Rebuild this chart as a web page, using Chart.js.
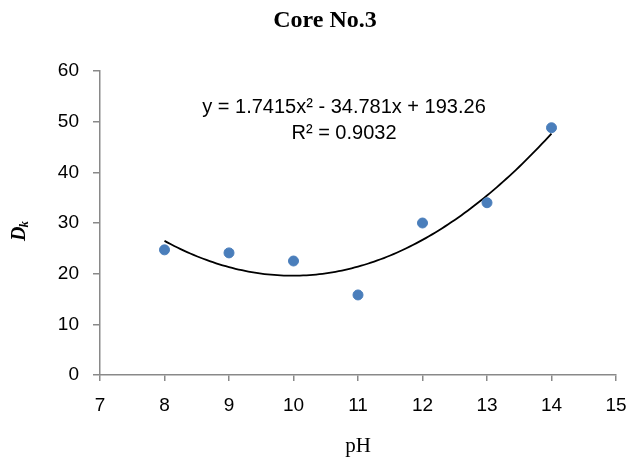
<!DOCTYPE html>
<html>
<head>
<meta charset="utf-8">
<script src="https://cdn.jsdelivr.net/npm/chart.js@4"></script>
<style>
  html, body { margin:0; padding:0; background:#fff; }
  #wrap { width:627px; height:459px; position:relative; }
</style>
</head>
<body>
<div id="wrap"><canvas id="coreChart"></canvas></div>
<script>
// pH values and measured D_k for Core No.3
const phValues = [8, 9, 10, 11, 12, 13, 14];
const dkValues = [24.7, 24.1, 22.5, 15.8, 30.0, 34.0, 48.8];

// polynomial trendline shown on the chart: c0 + c1*x + c2*x^2
const trendCoef = [193.26, -34.781, 1.7415];
const trendRange = [8, 14];
const equationLines = ['y = 1.7415x\u00b2 - 34.781x + 193.26', 'R\u00b2 = 0.9032'];
const chartTitle = 'Core No.3';

const xTicks = { min:7, max:15, step:1 };
const yTicks = { min:0, max:60, step:10 };

const axisGrey = '#898989';
const sans = "'Liberation Sans', Arial, sans-serif";
const serif = "'Liberation Serif', 'Times New Roman', serif";

const trendPts = [];
for (let x = trendRange[0]; x <= trendRange[1] + 1e-9; x += 0.05) {
  trendPts.push({x:x, y:trendCoef[0] + trendCoef[1]*x + trendCoef[2]*x*x});
}

const labelsPlugin = {
  id:'extraText',
  afterDraw(chart) {
    const ctx = chart.ctx;
    ctx.save();
    ctx.fillStyle = '#000';
    ctx.textAlign = 'center';
    ctx.textBaseline = 'middle';
    // title sits a bit right of the canvas centre, like the original
    ctx.font = 'bold 24px ' + serif;
    ctx.fillText(chartTitle, 325, 21);
    // equation box
    ctx.font = '20px ' + sans;
    ctx.fillText(equationLines[0], 344, 107);
    ctx.fillText(equationLines[1], 344, 133);
    ctx.restore();

    // rotated y title D with subscript k
    ctx.save();
    ctx.translate(25, 241);
    ctx.rotate(-Math.PI/2);
    ctx.fillStyle = '#000';
    ctx.textBaseline = 'alphabetic';
    ctx.font = 'italic bold 20px ' + serif;
    ctx.fillText('D', 0, 0);
    const w = ctx.measureText('D').width;
    ctx.font = 'italic bold 13px ' + serif;
    ctx.fillText('k', w - 1, 3);
    ctx.restore();
  }
};

new Chart(document.getElementById('coreChart').getContext('2d'), {
  type:'scatter',
  data:{
    datasets:[{
      label:'Dk',
      data: phValues.map((p, i) => ({x:p, y:dkValues[i]})),
      backgroundColor:'#4a7ebb', borderColor:'#4a7ebb',
      pointRadius:5, pointHoverRadius:5, order:0
    },{
      type:'line',
      label:'Poly. trend',
      data: trendPts,
      borderColor:'#000', borderWidth:1.8,
      pointRadius:0, tension:0, fill:false, order:1
    }]
  },
  options:{
    responsive:true, maintainAspectRatio:false, animation:false,
    layout:{padding:{left:0, right:0, top:71, bottom:0}},
    plugins:{
      legend:{display:false}, tooltip:{enabled:false}, title:{display:false}
    },
    scales:{
      x:{
        type:'linear', min:xTicks.min, max:xTicks.max,
        grid:{drawOnChartArea:false, drawTicks:true, tickLength:6, color:axisGrey, lineWidth:1.5},
        border:{color:axisGrey, width:1.5},
        ticks:{stepSize:xTicks.step, color:'#000', font:{family:sans, size:19}, padding:13},
        title:{display:true, text:'pH', color:'#000', font:{family:serif, size:21}, padding:{top:6, bottom:0}},
        afterFit:s => { s.height = 84; s.paddingRight = 11; }
      },
      y:{
        min:yTicks.min, max:yTicks.max,
        grid:{drawOnChartArea:false, drawTicks:true, tickLength:7, color:axisGrey, lineWidth:1.5},
        border:{color:axisGrey, width:1.5},
        ticks:{stepSize:yTicks.step, color:'#000', font:{family:sans, size:19}, padding:14},
        afterFit:s => { s.width = 100; }
      }
    }
  },
  plugins:[labelsPlugin]
});
</script>
</body>
</html>
